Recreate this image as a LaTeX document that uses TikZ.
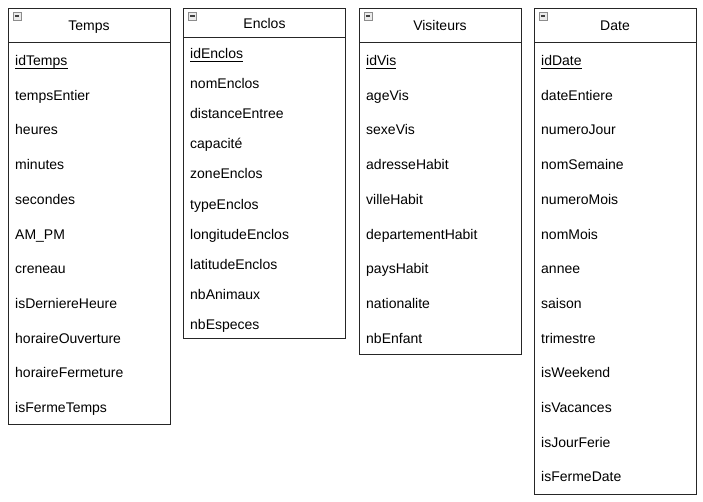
\documentclass[tikz,border=0pt]{standalone}
\usepackage{fontspec}
\setmainfont{Liberation Sans}
\begin{document}
\begin{tikzpicture}[x=1pt,y=-1pt,
  box/.style={draw=black!85,line width=0.8pt},
  attr/.style={anchor=base west,inner sep=0pt,font=\fontsize{14}{16}\selectfont},
  title/.style={anchor=base,inner sep=0pt,font=\fontsize{14}{16}\selectfont},
  iconbox/.style={draw=black!45,fill=black!8,line width=0.6pt},
  iconbar/.style={draw=black!75,line width=1.6pt}]
\useasboundingbox (0,0) rectangle (703,501);
% ---------- Temps
\draw[box] (8,8) rectangle (170,424);
\draw[box] (8,42.5) -- (170,42.5);
\draw[iconbox] (13,12) rectangle (21,20);
\draw[iconbar] (14.8,16) -- (19.2,16);
\node[title] (tT) at (89,30) {Temps};
\node[attr] (t0) at (15,65.5) {idTemps};
\draw ([yshift=-2.6pt]t0.base west) -- ([yshift=-2.6pt]t0.base east);
\foreach \a [count=\i] in {tempsEntier,heures,minutes,secondes,AM\_PM,creneau,isDerniereHeure,horaireOuverture,horaireFermeture,isFermeTemps}
  \node[attr] (t\i) at (15,65.5+34.7*\i) {\a};
% ---------- Enclos
\draw[box] (183.5,8) rectangle (345.5,338);
\draw[box] (183.5,37) -- (345.5,37);
\draw[iconbox] (188.5,12) rectangle (196.5,20);
\draw[iconbar] (190.3,16) -- (194.7,16);
\node[title] (eT) at (264.5,28.3) {Enclos};
\node[attr] (e0) at (190,58.5) {idEnclos};
\draw ([yshift=-2.6pt]e0.base west) -- ([yshift=-2.6pt]e0.base east);
\foreach \a [count=\i] in {nomEnclos,distanceEntree,capacité,zoneEnclos,typeEnclos,longitudeEnclos,latitudeEnclos,nbAnimaux,nbEspeces}
  \node[attr] (e\i) at (190,58.5+30.1*\i) {\a};
% ---------- Visiteurs
\draw[box] (359,8) rectangle (521.5,354);
\draw[box] (359,42.5) -- (521.5,42.5);
\draw[iconbox] (364,12) rectangle (372,20);
\draw[iconbar] (365.8,16) -- (370.2,16);
\node[title] (vT) at (440,30) {Visiteurs};
\node[attr] (v0) at (366,65.5) {idVis};
\draw ([yshift=-2.6pt]v0.base west) -- ([yshift=-2.6pt]v0.base east);
\foreach \a [count=\i] in {ageVis,sexeVis,adresseHabit,villeHabit,departementHabit,paysHabit,nationalite,nbEnfant}
  \node[attr] (v\i) at (366,65.5+34.7*\i) {\a};
% ---------- Date
\draw[box] (534,8) rectangle (696,494);
\draw[box] (534,42.5) -- (696,42.5);
\draw[iconbox] (539,12) rectangle (547,20);
\draw[iconbar] (540.8,16) -- (545.2,16);
\node[title] (dT) at (615,30) {Date};
\node[attr] (d0) at (541,65.5) {idDate};
\draw ([yshift=-2.6pt]d0.base west) -- ([yshift=-2.6pt]d0.base east);
\foreach \a [count=\i] in {dateEntiere,numeroJour,nomSemaine,numeroMois,nomMois,annee,saison,trimestre,isWeekend,isVacances,isJourFerie,isFermeDate}
  \node[attr] (d\i) at (541,65.5+34.7*\i) {\a};
\end{tikzpicture}
\end{document}
